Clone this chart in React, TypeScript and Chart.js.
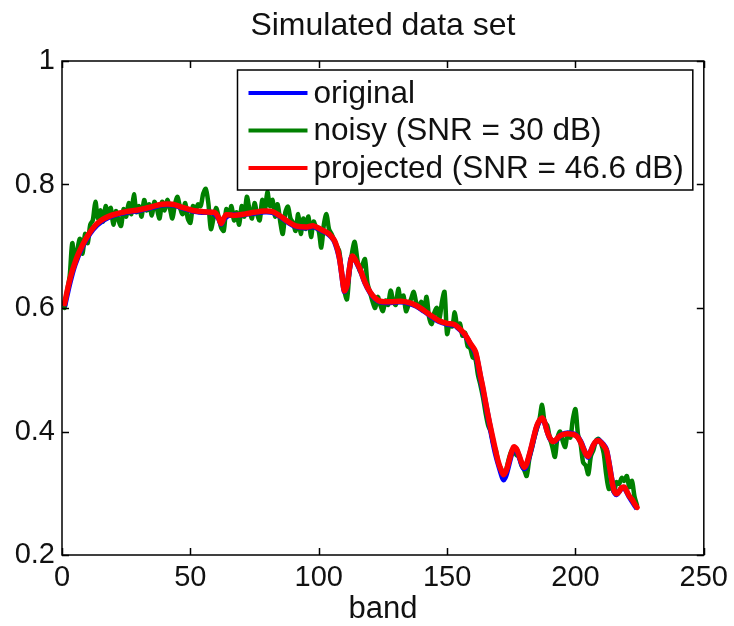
import React, { useEffect, useRef } from 'react';
import { Chart, registerables } from 'chart.js';

Chart.register(...registerables);

const titleText = 'Simulated data set';
const xAxisLabel = 'band';
const xTicks = [0, 50, 100, 150, 200, 250];
const xTickLabels = ['0', '50', '100', '150', '200', '250'];
const yTicks = [0.2, 0.4, 0.6, 0.8, 1];
const yTickLabels = ['0.2', '0.4', '0.6', '0.8', '1'];
const seriesLabels = ['original', 'noisy (SNR = 30 dB)', 'projected (SNR = 46.6 dB)'];
const seriesColors = ['#0000ff', '#008000', '#ff0000'];

// noisy spectrum, one value per band (1..224)
const noisyValues = [
  0.600, 0.628, 0.652, 0.705, 0.672, 0.695, 0.712, 0.688, 0.720, 0.705,
  0.735, 0.742, 0.772, 0.745, 0.758, 0.740, 0.765, 0.748, 0.762, 0.735,
  0.757, 0.742, 0.733, 0.760, 0.748, 0.770, 0.752, 0.784, 0.755, 0.765,
  0.748, 0.775, 0.758, 0.768, 0.750, 0.772, 0.760, 0.745, 0.772, 0.758,
  0.775, 0.762, 0.745, 0.768, 0.780, 0.762, 0.752, 0.770, 0.745, 0.738,
  0.765, 0.758, 0.768, 0.765, 0.785, 0.793, 0.770, 0.728, 0.745, 0.762,
  0.748, 0.730, 0.725, 0.760, 0.750, 0.765, 0.742, 0.755, 0.735, 0.765,
  0.748, 0.780, 0.760, 0.745, 0.770, 0.752, 0.742, 0.775, 0.758, 0.788,
  0.765, 0.775, 0.748, 0.768, 0.740, 0.720, 0.755, 0.764, 0.745, 0.738,
  0.725, 0.752, 0.720, 0.745, 0.728, 0.748, 0.715, 0.740, 0.730, 0.725,
  0.698, 0.735, 0.752, 0.728, 0.720, 0.710, 0.700, 0.692, 0.655, 0.628,
  0.614, 0.660, 0.690, 0.707, 0.680, 0.660, 0.670, 0.679, 0.640, 0.625,
  0.610, 0.600, 0.618, 0.605, 0.595, 0.612, 0.605, 0.628, 0.612, 0.605,
  0.631, 0.610, 0.620, 0.595, 0.605, 0.615, 0.626, 0.608, 0.600, 0.610,
  0.595, 0.618, 0.585, 0.574, 0.592, 0.600, 0.582, 0.610, 0.626, 0.558,
  0.575, 0.570, 0.593, 0.568, 0.575, 0.555, 0.560, 0.538, 0.535, 0.520,
  0.518, 0.492, 0.475, 0.455, 0.430, 0.410, 0.400, 0.380, 0.370, 0.348,
  0.340, 0.332, 0.338, 0.355, 0.368, 0.372, 0.362, 0.360, 0.345, 0.338,
  0.328, 0.355, 0.372, 0.390, 0.405, 0.420, 0.443, 0.415, 0.410, 0.390,
  0.375, 0.359, 0.390, 0.400, 0.385, 0.375, 0.398, 0.390, 0.420, 0.436,
  0.395, 0.380, 0.350, 0.345, 0.331, 0.360, 0.370, 0.385, 0.388, 0.380,
  0.365, 0.330, 0.307, 0.310, 0.302, 0.318, 0.315, 0.325, 0.320, 0.328,
  0.310, 0.320, 0.295, 0.280,
];

// projected spectrum, sampled at these bands
const projectedBands = [
  1, 2, 3, 4, 6, 8, 10, 12, 14, 16, 18, 20, 25, 30, 35, 39, 43, 47, 51, 55,
  59, 60, 61, 62, 63, 64, 67, 71, 75, 79, 82, 85, 88, 91, 95, 98, 101, 104, 106, 107,
  108, 109, 110, 111, 112, 113, 114, 116, 118, 120, 122, 124, 128, 132, 135, 138, 141, 144, 147, 150,
  153, 155, 157, 159, 161, 162, 163, 164, 165, 166, 167, 168, 169, 170, 171, 172, 173, 174, 175, 176,
  177, 178, 179, 180, 181, 182, 183, 184, 185, 186, 187, 188, 189, 190, 191, 192, 194, 196, 198, 200,
  201, 202, 203, 204, 205, 206, 207, 208, 209, 210, 211, 212, 213, 214, 215, 216, 217, 218, 219, 220,
  221, 222, 223, 224,
];
const projectedValues = [
  0.607, 0.627, 0.645, 0.660, 0.684, 0.702, 0.717, 0.729, 0.738, 0.744, 0.748, 0.751, 0.756, 0.759, 0.764, 0.768, 0.768, 0.763, 0.758, 0.756,
  0.755, 0.753, 0.746, 0.737, 0.745, 0.751, 0.750, 0.752, 0.755, 0.757, 0.756, 0.749, 0.740, 0.733, 0.731, 0.733, 0.727, 0.720, 0.710, 0.700,
  0.683, 0.655, 0.628, 0.636, 0.665, 0.684, 0.680, 0.664, 0.642, 0.626, 0.616, 0.611, 0.610, 0.611, 0.609, 0.604, 0.596, 0.587, 0.579, 0.575,
  0.573, 0.566, 0.557, 0.543, 0.530, 0.512, 0.490, 0.470, 0.447, 0.425, 0.405, 0.386, 0.367, 0.350, 0.338, 0.330, 0.336, 0.350, 0.365, 0.375,
  0.372, 0.362, 0.350, 0.342, 0.348, 0.362, 0.378, 0.395, 0.410, 0.418, 0.422, 0.415, 0.400, 0.390, 0.384, 0.385, 0.393, 0.396, 0.396, 0.394,
  0.390, 0.383, 0.373, 0.364, 0.360, 0.368, 0.378, 0.384, 0.385, 0.382, 0.377, 0.370, 0.350, 0.325, 0.305, 0.299, 0.303, 0.309, 0.310, 0.303,
  0.295, 0.290, 0.283, 0.277,
];

// original spectrum, sampled at these bands
const originalBands = [
  1, 3, 5, 8, 12, 16, 20, 25, 30, 35, 39, 43, 47, 51, 55, 59, 61, 62, 63, 65,
  70, 75, 79, 82, 85, 88, 91, 95, 98, 101, 104, 106, 108, 109, 110, 111, 112, 113, 116, 118,
  120, 122, 124, 128, 132, 135, 138, 141, 144, 147, 150, 153, 155, 157, 159, 161, 163, 165, 167, 169,
  171, 172, 173, 175, 176, 177, 179, 180, 181, 183, 185, 187, 188, 190, 192, 194, 196, 198, 200, 202,
  204, 205, 207, 209, 211, 212, 213, 215, 216, 218, 219, 221, 223, 224,
];
const originalValues = [
  0.603, 0.640, 0.670, 0.700, 0.727, 0.742, 0.750, 0.755, 0.758, 0.763, 0.767, 0.767, 0.762, 0.757, 0.755, 0.754, 0.745, 0.736, 0.744, 0.750,
  0.751, 0.754, 0.756, 0.755, 0.748, 0.739, 0.732, 0.730, 0.732, 0.726, 0.719, 0.709, 0.682, 0.654, 0.627, 0.636, 0.664, 0.683, 0.663, 0.641,
  0.625, 0.615, 0.610, 0.609, 0.610, 0.608, 0.603, 0.595, 0.586, 0.578, 0.574, 0.572, 0.565, 0.556, 0.542, 0.528, 0.488, 0.445, 0.402, 0.362,
  0.333, 0.322, 0.330, 0.362, 0.373, 0.371, 0.348, 0.340, 0.346, 0.376, 0.408, 0.421, 0.414, 0.389, 0.384, 0.393, 0.397, 0.397, 0.395, 0.384,
  0.364, 0.359, 0.378, 0.386, 0.378, 0.371, 0.351, 0.304, 0.298, 0.308, 0.309, 0.294, 0.281, 0.275,
];

const FONT = '"Liberation Sans", Arial, Helvetica, sans-serif';

const framePlugin = {
  id: 'matlabFrame',
  afterDraw(chart: any) {
    const { ctx, chartArea, scales } = chart;
    const { left, right, top, bottom } = chartArea;
    const x = scales.x;
    const y = scales.y;
    ctx.save();
    ctx.strokeStyle = '#000';
    ctx.lineWidth = 1.5;
    ctx.strokeRect(left, top, right - left, bottom - top);
    const tick = 7;
    ctx.beginPath();
    xTicks.forEach((v) => {
      const px = Math.round(x.getPixelForValue(v)) + 0.5;
      ctx.moveTo(px, bottom);
      ctx.lineTo(px, bottom - tick);
      ctx.moveTo(px, top);
      ctx.lineTo(px, top + tick);
    });
    yTicks.forEach((v) => {
      const py = Math.round(y.getPixelForValue(v)) + 0.5;
      ctx.moveTo(left, py);
      ctx.lineTo(left + tick, py);
      ctx.moveTo(right, py);
      ctx.lineTo(right - tick, py);
    });
    ctx.stroke();

    // title
    ctx.fillStyle = '#111';
    ctx.font = `32px ${FONT}`;
    ctx.textAlign = 'center';
    ctx.textBaseline = 'middle';
    ctx.fillText(titleText, (left + right) / 2, 26);

    // legend
    ctx.font = `31.5px ${FONT}`;
    const maxW = Math.max(...seriesLabels.map((s) => ctx.measureText(s).width));
    const sample = 59;
    const padL = 11;
    const gap = 6;
    const padR = 9;
    const boxW = padL + sample + gap + maxW + padR;
    const boxR = right - 11;
    const boxL = boxR - boxW;
    const boxT = top + 9;
    const rowH = 37.5;
    const boxH = 120;
    ctx.fillStyle = '#fff';
    ctx.fillRect(boxL, boxT, boxW, boxH);
    ctx.lineWidth = 1.5;
    ctx.strokeStyle = '#000';
    ctx.strokeRect(boxL, boxT, boxW, boxH);
    seriesLabels.forEach((label, i) => {
      const cy = boxT + 23 + i * rowH;
      ctx.strokeStyle = seriesColors[i];
      ctx.lineWidth = 4;
      ctx.beginPath();
      ctx.moveTo(boxL + padL, cy);
      ctx.lineTo(boxL + padL + sample, cy);
      ctx.stroke();
      ctx.fillStyle = '#111';
      ctx.textAlign = 'left';
      ctx.textBaseline = 'middle';
      ctx.fillText(label, boxL + padL + sample + gap, cy + 1);
    });
    ctx.restore();
  },
};

export default function App() {
  const ref = useRef<HTMLCanvasElement | null>(null);
  useEffect(() => {
    document.body.style.margin = '0';
    const canvas = ref.current;
    if (!canvas) return;
    const noisyPts = noisyValues.map((v, i) => ({ x: i + 1, y: v }));
    const projPts = projectedBands.map((b, i) => ({ x: b, y: projectedValues[i] }));
    const origPts = originalBands.map((b, i) => ({ x: b, y: originalValues[i] }));
    const chart = new Chart(canvas, {
      type: 'line',
      data: {
        datasets: [
          {
            label: seriesLabels[0],
            data: origPts,
            borderColor: seriesColors[0],
            borderWidth: 5.5,
            pointRadius: 0,
            tension: 0.3,
            borderJoinStyle: 'round',
            order: 2,
          },
          {
            label: seriesLabels[1],
            data: noisyPts,
            borderColor: seriesColors[1],
            borderWidth: 4.5,
            pointRadius: 0,
            tension: 0.3,
            borderJoinStyle: 'round',
            borderCapStyle: 'round',
            order: 3,
          },
          {
            label: seriesLabels[2],
            data: projPts,
            borderColor: seriesColors[2],
            borderWidth: 5.5,
            pointRadius: 0,
            tension: 0.3,
            borderJoinStyle: 'round',
            borderCapStyle: 'round',
            order: 1,
          },
        ],
      },
      options: {
        responsive: false,
        animation: false,
        events: [],
        layout: { padding: { left: 0, right: 26, top: 61, bottom: 0 } },
        plugins: {
          legend: { display: false },
          title: { display: false },
          tooltip: { enabled: false },
        },
        scales: {
          x: {
            type: 'linear',
            min: 0,
            max: 250,
            grid: { display: false, drawTicks: false },
            border: { display: false },
            afterBuildTicks: (s: any) => {
              s.ticks = xTicks.map((v) => ({ value: v }));
            },
            afterFit: (s: any) => {
              s.height = 71;
            },
            ticks: {
              autoSkip: false,
              maxRotation: 0,
              padding: 6,
              color: '#111',
              font: { family: FONT, size: 29 },
              callback: (_v: any, i: number) => xTickLabels[i],
            },
            title: {
              display: true,
              text: xAxisLabel,
              color: '#111',
              font: { family: FONT, size: 31 },
              padding: { top: 0, bottom: -2 },
            },
          },
          y: {
            type: 'linear',
            min: 0.2,
            max: 1,
            grid: { display: false, drawTicks: false },
            border: { display: false },
            afterBuildTicks: (s: any) => {
              s.ticks = yTicks.map((v) => ({ value: v }));
            },
            afterFit: (s: any) => {
              s.width = 62;
            },
            ticks: {
              padding: 7,
              color: '#111',
              font: { family: FONT, size: 29 },
              callback: (_v: any, i: number) => yTickLabels[i],
            },
          },
        },
      },
      plugins: [framePlugin],
    });
    return () => chart.destroy();
  }, []);
  return <canvas ref={ref} width={734} height={626} style={{ display: 'block' }} />;
}
